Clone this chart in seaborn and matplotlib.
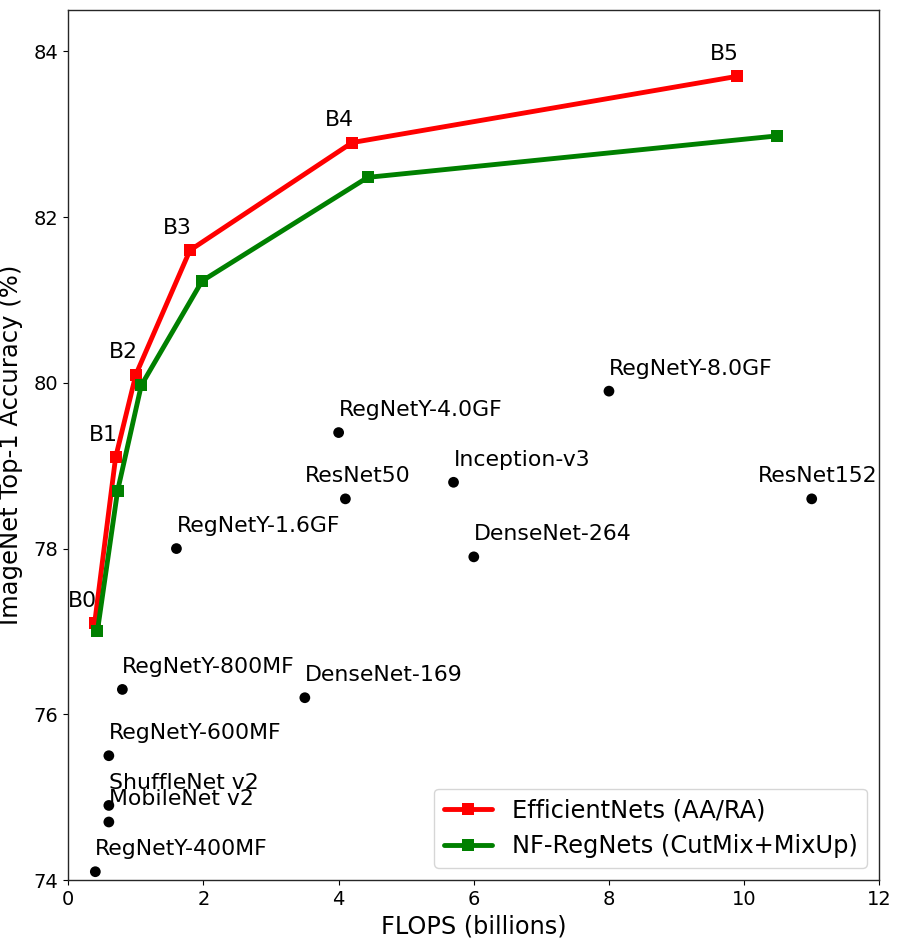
import matplotlib
matplotlib.use("Agg")
import matplotlib.pyplot as plt
import seaborn as sns
import pandas as pd

# EfficientNets (AA/RA)
eff_names = ["B0", "B1", "B2", "B3", "B4", "B5"]
eff_flops = [0.39, 0.70, 1.0, 1.8, 4.2, 9.9]
eff_acc = [77.1, 79.1, 80.1, 81.6, 82.9, 83.7]

# NF-RegNets (CutMix+MixUp)
nf_flops = [0.43, 0.73, 1.08, 1.98, 4.43, 10.48]
nf_acc = [77.0, 78.7, 79.97, 81.23, 82.48, 82.98]

# Other models
other_names = ["RegNetY-400MF", "MobileNet v2", "ShuffleNet v2", "RegNetY-600MF",
               "RegNetY-800MF", "DenseNet-169", "RegNetY-1.6GF", "ResNet50",
               "RegNetY-4.0GF", "Inception-v3", "DenseNet-264", "RegNetY-8.0GF",
               "ResNet152"]
other_flops = [0.4, 0.6, 0.6, 0.6, 0.8, 3.5, 1.6, 4.1, 4.0, 5.7, 6.0, 8.0, 11.0]
other_acc = [74.1, 74.7, 74.9, 75.5, 76.3, 76.2, 78.0, 78.6, 79.4, 78.8, 77.9, 79.9, 78.6]
label_dx = [0, 0, 0, 0, 0, 0, 0, -0.6, 0, 0, 0, 0, -0.8]

sns.set_style("ticks")
plt.rcParams['font.family'] = ['DejaVu Sans']
plt.rcParams['text.color'] = 'black'
plt.rcParams['axes.labelcolor'] = 'black'

fig = plt.figure(figsize=(8.99, 9.41), dpi=100)
ax = fig.add_axes([68.3 / 899, 61 / 941, 811 / 899, 870 / 941])

eff_df = pd.DataFrame({"flops": eff_flops, "acc": eff_acc})
nf_df = pd.DataFrame({"flops": nf_flops, "acc": nf_acc})
oth_df = pd.DataFrame({"flops": other_flops, "acc": other_acc})

sns.lineplot(data=eff_df, x="flops", y="acc", ax=ax, color="red", marker="s",
             markersize=8, markeredgewidth=0, linewidth=3.5, sort=False,
             label="EfficientNets (AA/RA)")
sns.lineplot(data=nf_df, x="flops", y="acc", ax=ax, color="green", marker="s",
             markersize=8, markeredgewidth=0, linewidth=3.5, sort=False,
             label="NF-RegNets (CutMix+MixUp)")
sns.scatterplot(data=oth_df, x="flops", y="acc", ax=ax, color="black", s=60,
                edgecolor="none", zorder=3)

for n, xv, yv in zip(eff_names, eff_flops, eff_acc):
    ax.text(xv - 0.4, yv + 0.2, n, fontsize=15.8, color="black")
for n, xv, yv, dx in zip(other_names, other_flops, other_acc, label_dx):
    ax.text(xv + dx, yv + 0.2, n, fontsize=15.8, color="black")

ax.set_xlim(0, 12)
ax.set_ylim(74, 84.5)
ax.set_xticks([0, 2, 4, 6, 8, 10, 12])
ax.set_yticks([74, 76, 78, 80, 82, 84])
ax.tick_params(labelsize=14, colors="black")
for s in ax.spines.values():
    s.set_color("#262626")
    s.set_linewidth(1.0)
ax.set_xlabel("FLOPS (billions)", fontsize=17.3, labelpad=4, color="black")
ax.set_ylabel("ImageNet Top-1 Accuracy (%)", fontsize=17.5, labelpad=8, color="black")
leg = ax.legend(loc="lower right", fontsize=17.4, frameon=True)
for t in leg.get_texts():
    t.set_color("black")

fig.savefig("out.png", dpi=100)
